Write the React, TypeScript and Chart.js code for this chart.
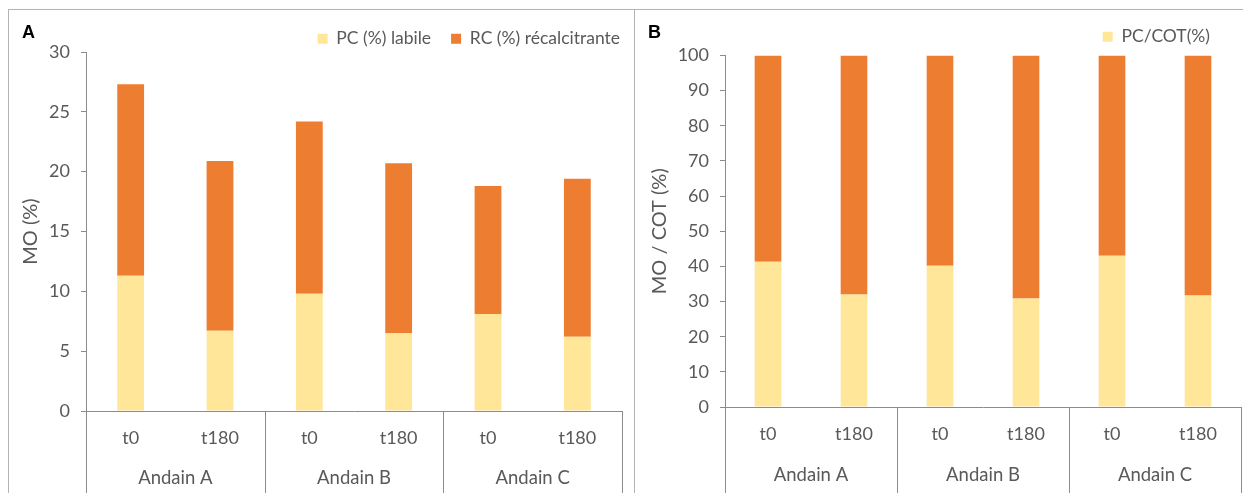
import { useEffect, useRef } from 'react';
import { Chart, registerables } from 'chart.js';

Chart.register(...registerables);

// ---------- data ----------
const categories = ['t0', 't180', 't0', 't180', 't0', 't180'];
const groups = ['Andain A', 'Andain B', 'Andain C'];

const moLabels = ['PC (%) labile', 'RC (%) récalcitrante'];
const moPC = [11.3, 6.7, 9.8, 6.5, 8.1, 6.2];
const moRC = [16.0, 14.2, 14.4, 14.2, 10.7, 13.2];
const moTicks = [0, 5, 10, 15, 20, 25, 30];

const cotLabels = ['PC/COT(%)', 'RC/COT(%)'];
const cotPC = [41.3, 32.0, 40.2, 30.9, 43.0, 31.7];
const cotRC = [58.7, 68.0, 59.8, 69.1, 57.0, 68.3];
const cotTicks = [0, 10, 20, 30, 40, 50, 60, 70, 80, 90, 100];

// ---------- style ----------
const FONT = 'Lato, "Open Sans", sans-serif';
const GREY = '#595959';
const AXIS = '#8c8c8c';
const YELLOW = '#FFE699';
const ORANGE = '#ED7D31';
const BORDER = '#b4b4b4';

const groupPlugin = {
  id: 'groupAxis',
  afterDraw(chart: any, _args: any, opts: any) {
    const x = chart.scales.x;
    const ctx = chart.ctx;
    const g: string[] = opts.groups || [];
    const per: number = opts.per || 2;
    ctx.save();
    ctx.strokeStyle = AXIS;
    ctx.lineWidth = 1;
    const bounds: number[] = [];
    for (let i = 0; i <= g.length; i++) {
      if (i === 0) bounds.push(x.left);
      else if (i === g.length) bounds.push(x.right);
      else bounds.push((x.getPixelForValue(i * per - 1) + x.getPixelForValue(i * per)) / 2);
    }
    bounds.forEach((b) => {
      const px = Math.round(b) + 0.5;
      ctx.beginPath();
      ctx.moveTo(px, x.top);
      ctx.lineTo(px, chart.height);
      ctx.stroke();
    });
    ctx.fillStyle = GREY;
    ctx.font = `18.5px ${FONT}`;
    ctx.textAlign = 'center';
    ctx.textBaseline = 'middle';
    g.forEach((label, i) => ctx.fillText(label, (bounds[i] + bounds[i + 1]) / 2, x.top + opts.offset));
    ctx.restore();
  },
};

const legendShift = {
  id: 'legendShift',
  afterLayout(chart: any, _args: any, opts: any) {
    const l = chart.legend;
    if (l && opts.dx) {
      l.left += opts.dx;
      l.right += opts.dx;
    }
  },
};

type PanelProps = {
  letter: string;
  width: number;
  height: number;
  labels: string[];
  pc: number[];
  rc: number[];
  ticks: number[];
  yTitle: string;
  yWidth: number;
  padRight: number;
  xHeight: number;
  titlePad: number;
  legendPad: number;
  legendMax: number;
  legendDx: number;
  legendCount: number;
  groupOffset: number;
  barFrac: number;
  style: any;
};

function Panel(p: PanelProps) {
  const ref = useRef<HTMLCanvasElement | null>(null);
  useEffect(() => {
    if (!ref.current) return;
    const chart = new Chart(ref.current, {
      type: 'bar',
      data: {
        labels: categories,
        datasets: [
          { label: p.labels[0], data: p.pc, backgroundColor: YELLOW, categoryPercentage: 1, barPercentage: p.barFrac },
          { label: p.labels[1], data: p.rc, backgroundColor: ORANGE, categoryPercentage: 1, barPercentage: p.barFrac },
        ],
      },
      plugins: [groupPlugin, legendShift],
      options: {
        animation: false,
        responsive: false,
        layout: { padding: { left: 0, right: p.padRight, top: 0, bottom: 0 } },
        plugins: {
          tooltip: { enabled: false },
          legend: {
            position: 'top',
            align: 'end',
            maxHeight: p.legendMax,
            labels: {
              color: GREY,
              font: { family: FONT, size: 17.5 },
              boxWidth: 10,
              boxHeight: 10,
              padding: p.legendPad,
              filter: (item: any) => item.datasetIndex < p.legendCount,
            },
          },
          groupAxis: { groups, per: 2, offset: p.groupOffset },
          legendShift: { dx: p.legendDx },
        } as any,
        scales: {
          x: {
            stacked: true,
            grid: { display: false, drawTicks: false, tickLength: 0 },
            border: { display: true, color: AXIS },
            ticks: { color: GREY, font: { family: FONT, size: 18 }, padding: 16, maxRotation: 0, autoSkip: false },
            afterFit: (s: any) => { s.height = p.xHeight; },
          },
          y: {
            stacked: true,
            min: p.ticks[0],
            max: p.ticks[p.ticks.length - 1],
            afterBuildTicks: (s: any) => { s.ticks = p.ticks.map((v) => ({ value: v })); },
            grid: { display: true, drawOnChartArea: false, drawTicks: true, tickLength: 5, color: AXIS },
            border: { display: true, color: AXIS },
            ticks: { color: GREY, font: { family: FONT, size: 18 }, padding: 11 },
            title: {
              display: true,
              text: p.yTitle,
              color: GREY,
              font: { family: FONT, size: 20 },
              padding: { top: p.titlePad, bottom: 0 },
            },
            afterFit: (s: any) => { s.width = p.yWidth; },
          },
        },
      } as any,
    });
    return () => chart.destroy();
  }, []);
  return (
    <div style={{ position: 'relative', flex: 'none', ...p.style }}>
      <canvas ref={ref} width={p.width} height={p.height} style={{ display: 'block' }} />
      <span
        style={{
          position: 'absolute',
          left: 13,
          top: 12,
          fontFamily: '"Liberation Sans", Arial, sans-serif',
          fontWeight: 'bold',
          fontSize: 18,
          color: '#000',
        }}
      >
        {p.letter}
      </span>
    </div>
  );
}

export default function App() {
  useEffect(() => {
    document.body.style.overflow = 'hidden';
  }, []);
  return (
    <div style={{ display: 'flex', marginTop: 1 }}>
      <Panel
        letter="A"
        width={625}
        height={483}
        labels={moLabels}
        pc={moPC}
        rc={moRC}
        ticks={moTicks}
        yTitle="MO (%)"
        yWidth={77}
        padRight={12}
        xHeight={82}
        titlePad={10}
        legendPad={20}
        legendMax={42}
        legendDx={18}
        legendCount={2}
        groupOffset={67}
        barFrac={0.3}
        style={{ borderTop: `1px solid ${BORDER}`, borderLeft: `1px solid ${BORDER}`, borderRight: `1px solid ${BORDER}`, width: 625, height: 490 }}
      />
      <Panel
        letter="B"
        width={616}
        height={483}
        labels={cotLabels}
        pc={cotPC}
        rc={cotRC}
        ticks={cotTicks}
        yTitle="MO / COT (%)"
        yWidth={90}
        padRight={10}
        xHeight={86}
        titlePad={13}
        legendPad={18}
        legendMax={47}
        legendDx={-13}
        legendCount={1}
        groupOffset={68}
        barFrac={0.31}
        style={{ borderTop: `1px solid ${BORDER}`, width: 616, height: 490 }}
      />
    </div>
  );
}
